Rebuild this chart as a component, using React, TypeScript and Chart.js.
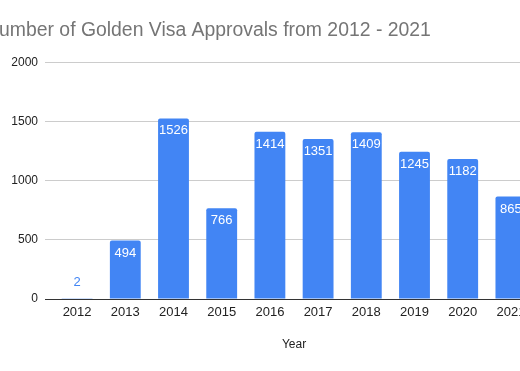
import React, { useEffect, useRef } from "react";
import { Chart, registerables } from "chart.js";

Chart.register(...registerables);

const titleText = "Number of Golden Visa Approvals from 2012 - 2021";
const xAxisTitle = "Year";
const categories = ["2012", "2013", "2014", "2015", "2016", "2017", "2018", "2019", "2020", "2021"];
const approvals = [2, 494, 1526, 766, 1414, 1351, 1409, 1245, 1182, 865];
const yMax = 2000;
const yStep = 500;

const FONT = "'Liberation Sans', Arial, sans-serif";
const BLUE = "#4285F4";

const valueLabels = {
  id: "valueLabels",
  afterDatasetsDraw(chart: any) {
    const ctx = chart.ctx;
    const meta = chart.getDatasetMeta(0);
    const data = chart.data.datasets[0].data as number[];
    ctx.save();
    ctx.font = `13px ${FONT}`;
    ctx.textAlign = "center";
    ctx.textBaseline = "middle";
    meta.data.forEach((bar: any, i: number) => {
      const h = bar.base - bar.y;
      if (h > 22) {
        ctx.fillStyle = "#ffffff";
        ctx.fillText(String(data[i]), bar.x, bar.y + 12.5);
      } else {
        ctx.fillStyle = BLUE;
        ctx.fillText(String(data[i]), bar.x, bar.y - 16);
      }
    });
    ctx.restore();
  },
};

export default function App() {
  const ref = useRef<HTMLCanvasElement>(null);
  useEffect(() => {
    if (!ref.current) return;
    const chart = new Chart(ref.current, {
      type: "bar",
      data: {
        labels: categories,
        datasets: [
          {
            data: approvals,
            backgroundColor: BLUE,
            borderRadius: 2,
            categoryPercentage: 1,
            barPercentage: 0.64,
          },
        ],
      },
      options: {
        animation: false,
        responsive: false,
        devicePixelRatio: 1,
        layout: { padding: { left: 0, right: 10, top: 0, bottom: 0 } },
        plugins: {
          legend: { display: false },
          tooltip: { enabled: false },
          title: {
            display: true,
            text: titleText,
            align: "start",
            color: "#757575",
            font: { family: FONT, size: 19.4, weight: "normal" },
            padding: { top: 19, bottom: 20 },
          },
        },
        scales: {
          x: {
            grid: { display: false, tickLength: 6 },
            border: { display: false },
            ticks: {
              color: "#222",
              font: { family: FONT, size: 13 },
              padding: 0,
              maxRotation: 0,
              autoSkip: false,
            },
            title: {
              display: true,
              text: xAxisTitle,
              color: "#222",
              font: { family: FONT, size: 12 },
              padding: { top: 17, bottom: 19 },
            },
          },
          y: {
            min: 0,
            max: yMax,
            afterFit: (s: any) => {
              s.width = 68;
            },
            border: { display: false },
            grid: {
              color: (c: any) => (c.tick && c.tick.value === 0 ? "#333" : "#cccccc"),
              lineWidth: 1,
              drawTicks: true,
              tickLength: 8,
            },
            ticks: {
              stepSize: yStep,
              color: "#222",
              font: { family: FONT, size: 12 },
              padding: 7,
              callback: (v: any) => String(v),
            },
          },
        },
      },
      plugins: [valueLabels],
    });
    return () => chart.destroy();
  }, []);
  return (
    <div
      style={{
        position: "fixed",
        left: 0,
        top: 0,
        width: 520,
        height: 371,
        overflow: "hidden",
        background: "#fff",
      }}
    >
      <canvas
        ref={ref}
        width={560}
        height={371}
        style={{ position: "absolute", left: -15, top: 0, width: 560, height: 371 }}
      />
    </div>
  );
}
